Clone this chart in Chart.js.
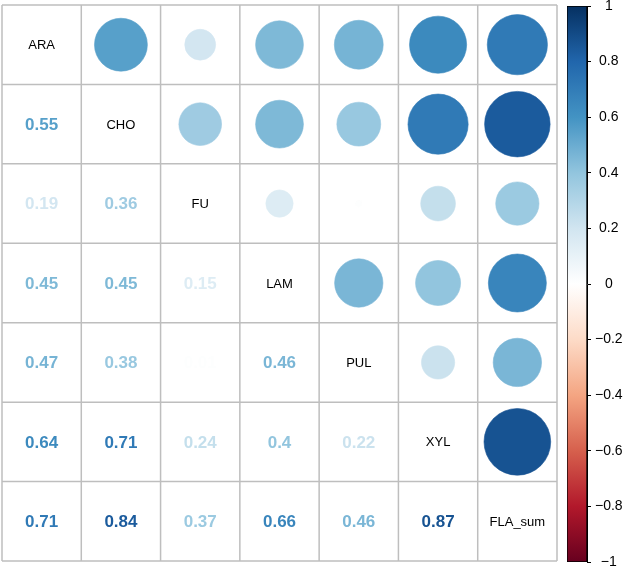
<!DOCTYPE html>
<html>
<head>
<meta charset="utf-8">
<script src="https://cdn.jsdelivr.net/npm/chart.js@4.4.1/dist/chart.umd.min.js"></script>
<style>
  html, body { margin: 0; padding: 0; background: #fff; }
  #wrap { position: relative; width: 624px; height: 567px; }
  #main { position: absolute; left: 0; top: 0; }
  #bar { position: absolute; left: 560px; top: 0; }
</style>
</head>
<body>
<div id="wrap">
  <canvas id="main" width="560" height="567"></canvas>
  <canvas id="bar" width="64" height="567"></canvas>
</div>
<script>
'use strict';
// Corrplot (upper: circles, lower: coefficients) + RdBu colour legend.

const VARS = ['ARA', 'CHO', 'FU', 'LAM', 'PUL', 'XYL', 'FLA_sum'];
const CORR = [
  [1,    0.55, 0.19, 0.45, 0.47, 0.64, 0.71],
  [0.55, 1,    0.36, 0.45, 0.38, 0.71, 0.84],
  [0.19, 0.36, 1,    0.15, 0.01, 0.24, 0.37],
  [0.45, 0.45, 0.15, 1,    0.46, 0.40, 0.66],
  [0.47, 0.38, 0.01, 0.46, 1,    0.22, 0.46],
  [0.64, 0.71, 0.24, 0.40, 0.22, 1,    0.87],
  [0.71, 0.84, 0.37, 0.66, 0.46, 0.87, 1]
];
const LEGEND_TICKS = [-1, -0.8, -0.6, -0.4, -0.2, 0, 0.2, 0.4, 0.6, 0.8, 1];
const RDBU = ['#67001F', '#B2182B', '#D6604D', '#F4A582', '#FDDBC7', '#FFFFFF',
              '#D1E5F0', '#92C5DE', '#4393C3', '#2166AC', '#053061'];

const FONT = '"Liberation Sans", Arial, Helvetica, sans-serif';
const hex = h => [1, 3, 5].map(i => parseInt(h.slice(i, i + 2), 16));
function colOf(v) {
  const t = (Math.max(-1, Math.min(1, v)) + 1) / 2 * (RDBU.length - 1);
  const i = Math.min(Math.floor(t), RDBU.length - 2), f = t - i;
  const a = hex(RDBU[i]), b = hex(RDBU[i + 1]);
  const c = a.map((x, n) => Math.round(x + (b[n] - x) * f));
  return `rgb(${c[0]},${c[1]},${c[2]})`;
}

// bubbles for the upper triangle
const pts = [];
VARS.forEach((_, i) => VARS.forEach((__, j) => { if (j > i) pts.push({ x: j + 0.5, y: i + 0.5, v: CORR[i][j] }); }));

const cellPx = chart => Math.abs(chart.scales.x.getPixelForValue(1) - chart.scales.x.getPixelForValue(0));

const gridAndText = {
  id: 'gridAndText',
  beforeDatasetsDraw(chart) {
    const { ctx, scales: { x, y } } = chart;
    ctx.save();
    ctx.strokeStyle = '#BEBEBE'; ctx.lineWidth = 1.5;
    for (let k = 0; k <= VARS.length; k++) {
      const px = x.getPixelForValue(k), py = y.getPixelForValue(k);
      ctx.beginPath(); ctx.moveTo(px, y.getPixelForValue(0)); ctx.lineTo(px, y.getPixelForValue(VARS.length)); ctx.stroke();
      ctx.beginPath(); ctx.moveTo(x.getPixelForValue(0), py); ctx.lineTo(x.getPixelForValue(VARS.length), py); ctx.stroke();
    }
    ctx.restore();
  },
  afterDatasetsDraw(chart) {
    const { ctx, scales: { x, y } } = chart;
    ctx.save();
    ctx.textAlign = 'center'; ctx.textBaseline = 'middle';
    VARS.forEach((name, i) => VARS.forEach((_, j) => {
      const cx = x.getPixelForValue(j + 0.5), cy = y.getPixelForValue(i + 0.5);
      if (i === j) {
        ctx.fillStyle = '#000'; ctx.font = `13px ${FONT}`;
        ctx.fillText(name, cx, cy + 1);
      } else if (i > j) {
        ctx.fillStyle = colOf(CORR[i][j]); ctx.font = `bold 17px ${FONT}`;
        ctx.fillText(String(CORR[i][j]), cx, cy + 1);
      }
    }));
    ctx.restore();
  }
};

const main = new Chart(document.getElementById('main'), {
  type: 'bubble',
  data: {
    datasets: [{
      data: pts.map(p => ({ x: p.x, y: p.y, r: 0 })),
      backgroundColor: pts.map(p => colOf(p.v)),
      borderColor: pts.map(p => colOf(p.v)),
      borderWidth: 0.6
    }]
  },
  options: {
    responsive: false, animation: false, events: [],
    layout: { autoPadding: false, padding: { left: 2, top: 5, right: 3, bottom: 6 } },
    plugins: { legend: { display: false }, tooltip: { enabled: false } },
    scales: {
      x: { type: 'linear', min: 0, max: VARS.length, display: false },
      y: { type: 'linear', min: 0, max: VARS.length, reverse: true, display: false }
    }
  },
  plugins: [gridAndText]
});
// circle area ∝ |r| : radius from the laid-out x scale's cell width
const cw = cellPx(main);
main.data.datasets[0].data = pts.map(p => ({ x: p.x, y: p.y, r: Math.max(0.455 * Math.sqrt(Math.abs(p.v)) * cw - 0.3, 0.5) }));
main.update();

// colour legend: one floating bar from -1 to 1 filled with the RdBu gradient
new Chart(document.getElementById('bar'), {
  type: 'bar',
  data: {
    labels: [''],
    datasets: [{
      data: [[-1, 1]],
      backgroundColor: c => {
        const { chart } = c; if (!chart.chartArea) return '#fff';
        const ys = chart.scales.y;
        const g = chart.ctx.createLinearGradient(0, ys.getPixelForValue(-1), 0, ys.getPixelForValue(1));
        RDBU.forEach((col, k) => g.addColorStop(k / (RDBU.length - 1), col));
        return g;
      },
      borderColor: '#000', borderWidth: 1, borderSkipped: false,
      barPercentage: 1, categoryPercentage: 1
    }]
  },
  options: {
    responsive: false, animation: false, events: [],
    layout: { padding: { left: 7, top: 6, right: 0, bottom: 5 } },
    plugins: { legend: { display: false }, tooltip: { enabled: false } },
    scales: {
      x: { display: false },
      y: {
        position: 'right', min: -1, max: 1,
        afterFit: s => { s.width = 37; s.paddingTop = 0; s.paddingBottom = 0; },
        afterBuildTicks: s => { s.ticks = LEGEND_TICKS.map(v => ({ value: v })); },
        border: { display: true, color: '#000', width: 1 },
        grid: { drawOnChartArea: false, drawTicks: true, tickLength: 4, tickColor: '#000' },
        ticks: {
          color: '#000', font: { family: FONT, size: 14 }, padding: 4, crossAlign: 'center',
          callback: v => String(Math.round(v * 10) / 10).replace('-', '\u2212')
        }
      }
    }
  }
});
</script>
</body>
</html>
